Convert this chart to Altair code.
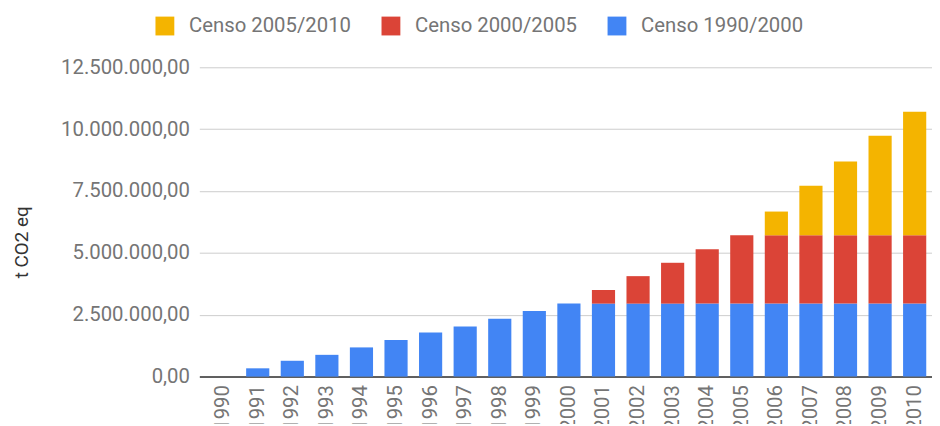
import altair as alt
import pandas as pd

years = [str(y) for y in range(1990, 2011)]
series_names = ["Censo 1990/2000", "Censo 2000/2005", "Censo 2005/2010"]
censo_1990_2000 = [0, 335000, 640000, 880000, 1180000, 1480000, 1780000, 2030000,
                   2340000, 2650000, 2950000, 2950000, 2950000, 2950000, 2950000,
                   2950000, 2950000, 2950000, 2950000, 2950000, 2950000]
censo_2000_2005 = [0, 0, 0, 0, 0, 0, 0, 0, 0, 0, 0,
                   550000, 1110000, 1650000, 2200000, 2760000,
                   2760000, 2760000, 2760000, 2760000, 2760000]
censo_2005_2010 = [0, 0, 0, 0, 0, 0, 0, 0, 0, 0, 0, 0, 0, 0, 0, 0,
                   960000, 2000000, 2980000, 4020000, 4990000]
legend_order = ["Censo 2005/2010", "Censo 2000/2005", "Censo 1990/2000"]
colors = ["#F4B400", "#DB4437", "#4285F4"]
y_ticks = [0, 2500000, 5000000, 7500000, 10000000, 12500000]

rows = []
for i, yr in enumerate(years):
    for k, (name, vals) in enumerate(zip(series_names,
                                         [censo_1990_2000, censo_2000_2005, censo_2005_2010])):
        rows.append({"ano": yr, "serie": name, "valor": vals[i], "ordem": k})
df = pd.DataFrame(rows)

label_expr = ("replace(replace(replace(format(datum.value, ',.2f'), regexp(',', 'g'), '#'), "
              "'.', ','), regexp('#', 'g'), '.')")

FS = 20.5

chart = alt.Chart(df).mark_bar().encode(
    x=alt.X("ano:O", sort=years,
            scale=alt.Scale(paddingInner=0.33, paddingOuter=0.26, align=0.68),
            axis=alt.Axis(title=None, labelAngle=270, labelFontSize=FS, labelColor="#757575",
                          labelPadding=8, ticks=False, domainColor="#333333", domainWidth=1.5,
                          grid=False)),
    y=alt.Y("valor:Q", stack="zero",
            scale=alt.Scale(domain=[0, 12500000], nice=False, zero=True),
            axis=alt.Axis(title="t CO2 eq", values=y_ticks, labelExpr=label_expr,
                          labelFontSize=FS, labelColor="#757575", labelPadding=10,
                          ticks=False, domain=False, gridColor="#cccccc",
                          titleFontSize=19, titleFontWeight="normal", titleColor="#333333",
                          titleAngle=270, titleX=-179, titleY=176, titleAlign="center",
                          titleBaseline="middle")),
    color=alt.Color("serie:N",
                    scale=alt.Scale(domain=legend_order, range=colors),
                    legend=alt.Legend(orient="none", legendX=-45, legendY=-52,
                                      direction="horizontal", title=None,
                                      symbolType="square", symbolSize=361,
                                      symbolStrokeWidth=0, symbolOpacity=1,
                                      labelFontSize=FS, labelColor="#757575",
                                      labelOffset=14, columnPadding=29, padding=0,
                                      labelLimit=400)),
    order=alt.Order("ordem:Q", sort="ascending"),
).properties(
    width=739,
    height=312,
    autosize=alt.AutoSizeParams(type="none"),
    padding={"left": 193, "top": 58, "right": 0, "bottom": 46},
).configure(
    font="Roboto",
).configure_view(
    stroke=None,
)

chart.save("out.html", embed_options={"renderer": "svg", "actions": False})
